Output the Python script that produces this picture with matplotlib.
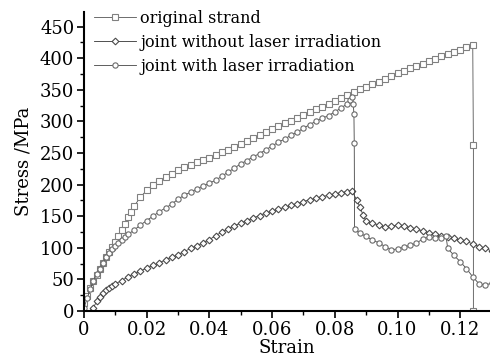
import matplotlib
matplotlib.use("Agg")
from matplotlib import pyplot as plt
from matplotlib.ticker import MultipleLocator

# original strand (squares)
strain_orig = [0, 0.001, 0.002, 0.003, 0.004, 0.005, 0.006, 0.007, 0.008, 0.009,
               0.010, 0.011, 0.012, 0.013, 0.014, 0.015, 0.016, 0.018, 0.020, 0.022,
               0.024, 0.026, 0.028, 0.030, 0.032, 0.034, 0.036, 0.038, 0.040, 0.042,
               0.044, 0.046, 0.048, 0.050, 0.052, 0.054, 0.056, 0.058, 0.060, 0.062,
               0.064, 0.066, 0.068, 0.070, 0.072, 0.074, 0.076, 0.078, 0.080, 0.082,
               0.084, 0.086, 0.088, 0.090, 0.092, 0.094, 0.096, 0.098, 0.100, 0.102,
               0.104, 0.106, 0.108, 0.110, 0.112, 0.114, 0.116, 0.118, 0.120, 0.122,
               0.124, 0.1242, 0.1242]
stress_orig = [12, 24, 36, 47, 57, 66, 76, 86, 94, 101,
               109, 118, 128, 138, 148, 157, 166, 180, 191, 199,
               206, 212, 217, 223, 227, 231, 235, 239, 242, 246,
               251, 255, 260, 264, 269, 274, 278, 283, 288, 292,
               297, 301, 306, 310, 315, 319, 323, 328, 332, 337,
               341, 346, 351, 355, 359, 363, 367, 372, 376, 380,
               384, 388, 391, 395, 399, 403, 406, 410, 413, 417,
               421, 262, 0]

# joint without laser irradiation (diamonds)
strain_nolaser = [0.0027, 0.003, 0.004, 0.005, 0.006, 0.007, 0.008, 0.009, 0.010, 0.012,
                  0.014, 0.016, 0.018, 0.020, 0.022, 0.024, 0.026, 0.028, 0.030, 0.032,
                  0.034, 0.036, 0.038, 0.040, 0.042, 0.044, 0.046, 0.048, 0.050, 0.052,
                  0.054, 0.056, 0.058, 0.060, 0.062, 0.064, 0.066, 0.068, 0.070, 0.072,
                  0.074, 0.076, 0.078, 0.080, 0.082, 0.084, 0.0855, 0.087, 0.088, 0.089,
                  0.090, 0.092, 0.094, 0.096, 0.098, 0.100, 0.102, 0.104, 0.106, 0.108,
                  0.110, 0.112, 0.114, 0.116, 0.118, 0.120, 0.122, 0.124, 0.126, 0.128,
                  0.130]
stress_nolaser = [0, 5, 15, 22, 28, 33, 37, 40, 43, 48,
                  54, 59, 63, 68, 72, 76, 81, 85, 89, 94,
                  99, 103, 108, 113, 119, 125, 130, 135, 139, 143,
                  147, 151, 155, 158, 161, 164, 167, 170, 173, 176,
                  178, 181, 183, 185, 187, 189, 190, 175, 165, 152,
                  142, 139, 136, 133, 134, 136, 135, 132, 129, 127,
                  124, 121, 119, 117, 115, 112, 110, 106, 102, 99,
                  95]

# joint with laser irradiation (circles)
strain_laser = [0, 0.001, 0.002, 0.003, 0.004, 0.005, 0.006, 0.007, 0.008, 0.009,
                0.010, 0.011, 0.012, 0.013, 0.014, 0.016, 0.018, 0.020, 0.022, 0.024,
                0.026, 0.028, 0.030, 0.032, 0.034, 0.036, 0.038, 0.040, 0.042, 0.044,
                0.046, 0.048, 0.050, 0.052, 0.054, 0.056, 0.058, 0.060, 0.062, 0.064,
                0.066, 0.068, 0.070, 0.072, 0.074, 0.076, 0.078, 0.080, 0.082, 0.084,
                0.085, 0.0855, 0.0859, 0.0861, 0.0862, 0.0863, 0.088, 0.090, 0.092, 0.094,
                0.096, 0.098, 0.100, 0.102, 0.104, 0.106, 0.108, 0.110, 0.112, 0.114,
                0.1155, 0.116, 0.118, 0.120, 0.122, 0.124, 0.126, 0.128, 0.130]
stress_laser = [5, 20, 34, 47, 58, 67, 76, 85, 92, 98,
                103, 108, 113, 117, 121, 128, 136, 143, 150, 157,
                163, 169, 177, 183, 188, 193, 198, 202, 207, 213,
                220, 226, 233, 238, 244, 249, 255, 261, 267, 272,
                278, 283, 289, 295, 300, 305, 309, 315, 321, 328,
                334, 338, 328, 311, 265, 129, 123, 118, 112, 108,
                102, 97, 98, 101, 104, 107, 114, 117, 116, 116,
                118, 99, 88, 78, 67, 54, 43, 41, 44]

plt.rcParams["font.family"] = "DejaVu Serif"

fig = plt.figure(figsize=(4.9, 3.63), dpi=100)
ax = fig.add_axes([0.1714, 0.1433, 0.8286, 0.8237])

mk = dict(markersize=3.8, markerfacecolor="white", markeredgewidth=0.8, linewidth=0.6)
ax.plot(strain_orig, stress_orig, "-s", color="#555555", markeredgecolor="#808080",
        label="original strand", **mk)
ax.plot(strain_nolaser, stress_nolaser, "-D", color="#333333", markeredgecolor="#4a4a4a",
        label="joint without laser irradiation", **dict(mk, markersize=3.4))
ax.plot(strain_laser, stress_laser, "-o", color="#444444", markeredgecolor="#6a6a6a",
        label="joint with laser irradiation", **mk)

ax.set_xlim(0, 0.1295)
ax.set_ylim(0, 473)
ax.xaxis.set_minor_locator(MultipleLocator(0.01))
ax.yaxis.set_major_locator(MultipleLocator(50))
ax.yaxis.set_minor_locator(MultipleLocator(25))
ax.set_xticks([0, 0.02, 0.04, 0.06, 0.08, 0.10, 0.12])
ax.set_xticklabels(["0", "0.02", "0.04", "0.06", "0.08", "0.10", "0.12"])

for s in ["top", "right"]:
    ax.spines[s].set_visible(False)
for s in ["left", "bottom"]:
    ax.spines[s].set_linewidth(1.5)

ax.tick_params(which="major", direction="out", length=5, width=1.2, labelsize=13, pad=2)
ax.tick_params(which="minor", direction="out", length=3, width=1.0)

ax.set_xlabel("Strain", fontsize=13, labelpad=0)
ax.set_ylabel("Stress /MPa", fontsize=13, labelpad=5)

ax.legend(loc="upper left", frameon=False, fontsize=11.5, handlelength=2.6,
          handletextpad=0.3, labelspacing=0.45, borderaxespad=0.1,
          bbox_to_anchor=(0.005, 1.035))

plt.savefig("out.png", dpi=100)
